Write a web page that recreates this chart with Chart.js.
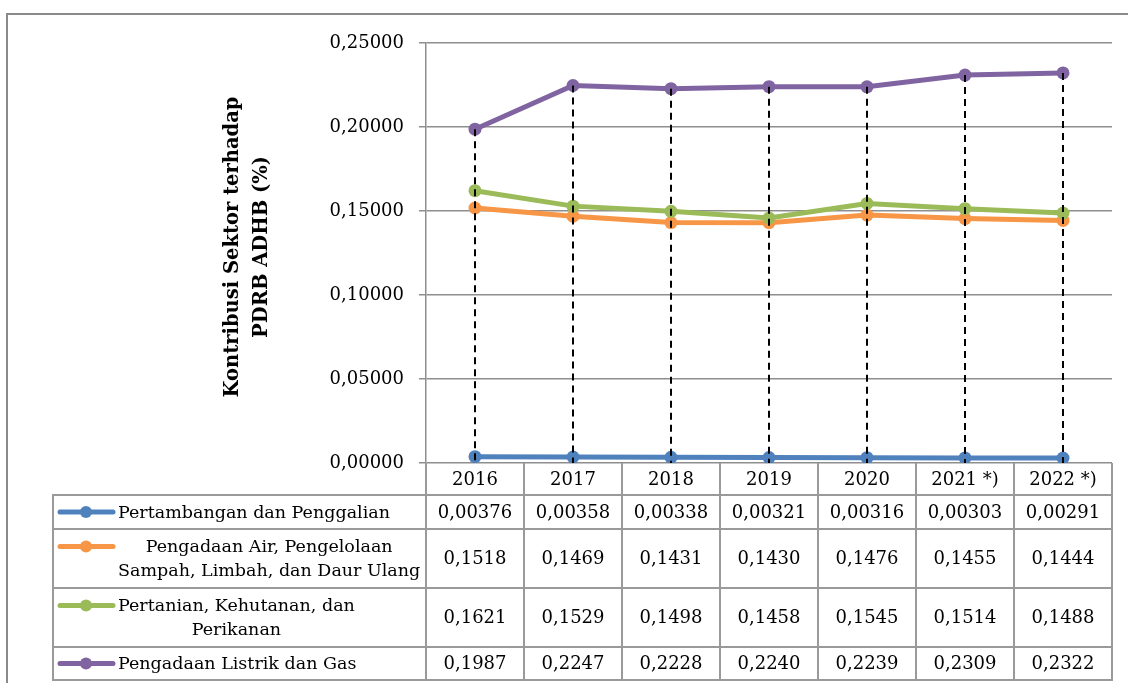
<!DOCTYPE html>
<html><head><meta charset="utf-8">
<script src="https://cdn.jsdelivr.net/npm/chart.js@4.4.0/dist/chart.umd.min.js"></script>
<style>html,body{margin:0;padding:0;background:#fff;}#wrap{width:1128px;height:683px;}</style>
</head><body><div id="wrap"><canvas id="c" width="1128" height="683"></canvas></div>
<script>
// ---------- data ----------
const years = ['2016', '2017', '2018', '2019', '2020', '2021 *)', '2022 *)'];
const pertambangan = [0.00376, 0.00358, 0.00338, 0.00321, 0.00316, 0.00303, 0.00291];
const pengadaanAir = [0.1518, 0.1469, 0.1431, 0.1430, 0.1476, 0.1455, 0.1444];
const pertanian = [0.1621, 0.1529, 0.1498, 0.1458, 0.1545, 0.1514, 0.1488];
const listrikGas = [0.1987, 0.2247, 0.2228, 0.2240, 0.2239, 0.2309, 0.2322];
const seriesLabels = [
  ['Pertambangan dan Penggalian'],
  ['Pengadaan Air, Pengelolaan', 'Sampah, Limbah, dan Daur Ulang'],
  ['Pertanian, Kehutanan, dan', 'Perikanan'],
  ['Pengadaan Listrik dan Gas']
];
const seriesDecimals = [5, 4, 4, 4];
const yTickMin = 0, yTickMax = 0.25, yTickStep = 0.05;
const yTitle = ['Kontribusi Sektor terhadap', 'PDRB ADHB (%)'];

// ---------- styles ----------
const colors = ['#4F81BD', '#F79646', '#9BBB59', '#8064A2'];
const FONT = '"DejaVu Serif", serif';
const FS = 18;       // numbers
const FS_LEG = 17.5; // legend text
const FS_TITLE = 19.5;
const gridColor = '#8e8e8e';
const tableColor = '#9a9a9a';
const fmt = (v, d) => v.toFixed(d).replace('.', ',');

const allSeries = [pertambangan, pengadaanAir, pertanian, listrikGas];

const datasets = allSeries.map((d, i) => ({
  label: seriesLabels[i].join(' '),
  data: d,
  borderColor: colors[i],
  backgroundColor: colors[i],
  pointBackgroundColor: colors[i],
  pointBorderWidth: 0,
  pointRadius: 6.5,
  borderWidth: 5,
  tension: 0,
  order: 3 - i
}));

const rowEdges = [495, 529, 588, 647, 680]; // table row boundaries below header (layout)
const legendLeft = 53;

const framePlugin = {
  id: 'frame',
  beforeDraw(chart) {
    const ctx = chart.ctx;
    ctx.save();
    ctx.fillStyle = '#fff';
    ctx.fillRect(0, 0, chart.width, chart.height);
    ctx.strokeStyle = '#8a8a8a';
    ctx.lineWidth = 2;
    ctx.strokeRect(7, 14, chart.width + 20, chart.height + 20);
    ctx.restore();
  }
};

const dropLinesPlugin = {
  id: 'dropLines',
  afterDatasetsDraw(chart) {
    const ctx = chart.ctx, xs = chart.scales.x, ys = chart.scales.y;
    ctx.save();
    ctx.strokeStyle = '#000';
    ctx.lineWidth = 2;
    ctx.setLineDash([7, 5]);
    years.forEach((_, i) => {
      const maxV = Math.max(...allSeries.map(s => s[i]));
      const x = Math.round(xs.getPixelForValue(i));
      ctx.beginPath();
      ctx.moveTo(x, ys.getPixelForValue(maxV));
      ctx.lineTo(x, ys.getPixelForValue(yTickMin));
      ctx.stroke();
    });
    ctx.restore();
  }
};

const tablePlugin = {
  id: 'table',
  afterDraw(chart) {
    const ctx = chart.ctx, xs = chart.scales.x, area = chart.chartArea;
    const n = years.length;
    const band = (area.right - area.left) / n;
    const top = area.bottom;
    const bottom = rowEdges[rowEdges.length - 1];
    ctx.save();
    // grid
    ctx.strokeStyle = tableColor;
    ctx.lineWidth = 2;
    ctx.beginPath();
    rowEdges.forEach(y => { ctx.moveTo(legendLeft, y); ctx.lineTo(area.right + 1, y); });
    for (let k = 0; k <= n; k++) {
      const x = area.left + band * k;
      ctx.moveTo(x, top); ctx.lineTo(x, bottom + 1);
    }
    ctx.moveTo(legendLeft, rowEdges[0] - 1); ctx.lineTo(legendLeft, bottom + 1);
    ctx.stroke();

    ctx.fillStyle = '#000';
    ctx.font = FS + 'px ' + FONT;
    ctx.textAlign = 'center';
    ctx.textBaseline = 'middle';
    // header years
    years.forEach((y, i) => ctx.fillText(y, xs.getPixelForValue(i), (top + rowEdges[0]) / 2 + 1));
    // values + legend
    allSeries.forEach((s, r) => {
      const y0 = rowEdges[r], y1 = rowEdges[r + 1];
      const cy = (y0 + y1) / 2 + 1;
      ctx.font = FS + 'px ' + FONT;
      s.forEach((v, i) => ctx.fillText(fmt(v, seriesDecimals[r]), xs.getPixelForValue(i), cy));
      const lines = seriesLabels[r];
      const lh = 24;
      const firstY = cy - (lines.length - 1) * lh / 2;
      // sample line
      ctx.strokeStyle = colors[r];
      ctx.lineWidth = 5;
      ctx.lineCap = 'round';
      ctx.beginPath();
      ctx.moveTo(60, firstY - 1); ctx.lineTo(113, firstY - 1);
      ctx.stroke();
      ctx.fillStyle = colors[r];
      ctx.beginPath();
      ctx.arc(86, firstY - 1, 6, 0, Math.PI * 2);
      ctx.fill();
      ctx.fillStyle = '#000';
      ctx.font = FS_LEG + 'px ' + FONT;
      const w = Math.max(...lines.map(l => ctx.measureText(l).width));
      const cx = 118 + w / 2;
      lines.forEach((l, j) => ctx.fillText(l, cx, firstY + j * lh));
    });
    // y title
    ctx.translate(247, 247);
    ctx.rotate(-Math.PI / 2);
    ctx.font = 'bold ' + FS_TITLE + 'px ' + FONT;
    yTitle.forEach((t, j) => ctx.fillText(t, 0, (j - (yTitle.length - 1) / 2) * 29));
    ctx.restore();
  }
};

new Chart(document.getElementById('c'), {
  type: 'line',
  data: { labels: years, datasets },
  options: {
    responsive: false,
    animation: false,
    devicePixelRatio: 1,
    layout: { padding: { left: 0, top: 43, right: 16, bottom: 0 } },
    plugins: { legend: { display: false }, tooltip: { enabled: false }, title: { display: false } },
    scales: {
      x: {
        type: 'category',
        offset: true,
        grid: { display: false, drawTicks: false },
        border: { display: false },
        ticks: { display: false },
        afterFit(s) { s.height = 220; }
      },
      y: {
        min: yTickMin,
        max: yTickMax,
        ticks: {
          stepSize: yTickStep,
          color: '#000',
          font: { family: FONT, size: FS },
          padding: 15,
          callback: v => fmt(v, 5)
        },
        grid: { color: gridColor, lineWidth: 1.5, tickLength: 7, drawTicks: true },
        border: { color: gridColor, width: 1.5 },
        afterFit(s) { s.width = 426; }
      }
    }
  },
  plugins: [framePlugin, dropLinesPlugin, tablePlugin]
});
</script>
</body></html>
